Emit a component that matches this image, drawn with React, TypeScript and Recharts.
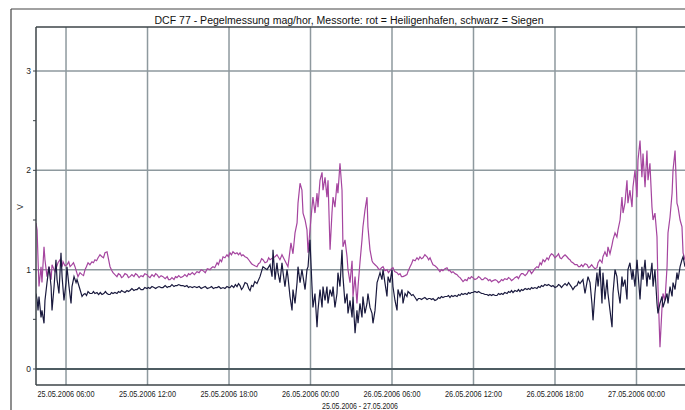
import { LineChart, Line, XAxis, YAxis, CartesianGrid, ReferenceLine } from "recharts";

// hours since 25.05.2006 00:00
const TIME_TICKS = [6, 12, 18, 24, 30, 36, 42, 48];
const TICK_LABELS = [
  "25.05.2006 06:00", "25.05.2006 12:00", "25.05.2006 18:00", "26.05.2006 00:00",
  "26.05.2006 06:00", "26.05.2006 12:00", "26.05.2006 18:00", "27.05.2006 00:00",
];
const Y_TICKS = [0, 0.5, 1, 1.5, 2, 2.5, 3];
const X_MIN = 3.79;
const X_MAX = 51.94;
const Y_MIN = -0.161;
const Y_MAX = 3.443;

// rot = Heiligenhafen, [hour, volt]
const hhMorning: [number, number][] = [
  [3.79, 1.47], [3.87, 1.4], [3.94, 1.1], [4.01, 0.83], [4.16, 1.03], [4.23, 0.87], [4.38, 1.23], [4.45, 1.1],
  [4.6, 0.93], [4.67, 0.98], [4.75, 1.03], [4.9, 0.9], [4.97, 1.05], [5.19, 0.98], [5.41, 1.07], [5.56, 1.1],
  [5.71, 1.03], [5.78, 1.08], [5.92, 1.04], [6.07, 1.05], [6.2, 1.08], [6.3, 1.03], [6.44, 1.05], [6.55, 1.07],
  [6.66, 1.03], [6.77, 0.98], [6.88, 0.93], [7.03, 0.97], [7.18, 0.95], [7.29, 0.94], [7.4, 1.0], [7.5, 1.03],
  [7.62, 1.07], [7.76, 1.05], [7.91, 1.08], [8.02, 1.07], [8.13, 1.1], [8.25, 1.09], [8.36, 1.12], [8.5, 1.15],
  [8.65, 1.13], [8.76, 1.12], [8.87, 1.17], [9.02, 1.18], [9.24, 1.03],
];
const hhDay25: [number, number][] = [
  [9.38, 0.99], [9.46, 0.97], [9.6, 0.95], [9.75, 0.93], [9.86, 0.96], [9.98, 0.95], [10.09, 0.92], [10.2, 0.93],
  [10.34, 0.96], [10.49, 0.95], [10.6, 0.92], [10.71, 0.93], [10.85, 0.95], [11.0, 0.93], [11.12, 0.96], [11.23, 0.95],
  [11.38, 0.92], [11.52, 0.94], [11.67, 0.93], [11.8, 0.96], [11.96, 0.95], [12.07, 0.93], [12.18, 0.92], [12.33, 0.95],
  [12.48, 0.93], [12.6, 0.96], [12.7, 0.95], [12.85, 0.92], [13.0, 0.94], [13.14, 0.93], [13.3, 0.91], [13.45, 0.93],
  [13.55, 0.9], [13.66, 0.9], [13.8, 0.92], [13.95, 0.9], [14.06, 0.93], [14.17, 0.92], [14.3, 0.94], [14.45, 0.92],
  [14.61, 0.93], [14.75, 0.95], [14.9, 0.93], [15.02, 0.96], [15.13, 0.95], [15.3, 0.97], [15.45, 0.95], [15.64, 0.98],
  [15.8, 0.97], [15.95, 1.0], [16.09, 0.99], [16.25, 0.97], [16.4, 1.01], [16.6, 1.0], [16.72, 1.02], [16.82, 1.03],
  [16.95, 1.02], [17.12, 1.07], [17.22, 1.05], [17.34, 1.1], [17.45, 1.08], [17.56, 1.13], [17.7, 1.12], [17.85, 1.15],
  [17.95, 1.13], [18.07, 1.17], [18.18, 1.15], [18.29, 1.18], [18.45, 1.16], [18.59, 1.17], [18.7, 1.15], [18.81, 1.17],
  [18.92, 1.14], [19.03, 1.15], [19.18, 1.13], [19.33, 1.12], [19.45, 1.1], [19.55, 1.08], [19.66, 1.06], [19.77, 1.05],
  [19.9, 1.04], [20.06, 1.03], [20.17, 1.06], [20.28, 1.07], [20.4, 1.11], [20.5, 1.1], [20.65, 1.07], [20.8, 1.08],
  [20.92, 1.12], [21.02, 1.1],
];
const hhNight26: [number, number][] = [
  [21.24, 1.12], [21.39, 1.13], [21.53, 1.15], [21.75, 1.1], [21.9, 1.15], [22.12, 1.09], [22.34, 1.03], [22.56, 1.27],
  [22.71, 1.16], [22.86, 1.37], [23.01, 1.47], [23.08, 1.67], [23.23, 1.87], [23.37, 1.8], [23.45, 1.57], [23.6, 1.5],
  [23.74, 1.4], [23.82, 1.17], [23.96, 1.4], [24.11, 1.63], [24.18, 1.73], [24.33, 1.57], [24.48, 1.77], [24.55, 1.63],
  [24.7, 1.9], [24.85, 1.98], [24.92, 1.8], [25.07, 1.93], [25.21, 1.73], [25.29, 1.9], [25.44, 1.2], [25.58, 1.57],
  [25.66, 1.73], [25.8, 1.63], [25.95, 1.87], [26.02, 1.77], [26.17, 2.07], [26.32, 1.8], [26.39, 1.23], [26.54, 1.3],
  [26.69, 1.13], [26.76, 1.0], [26.91, 0.87], [27.06, 1.09], [27.13, 0.73], [27.28, 0.93], [27.42, 0.66], [27.5, 0.83],
  [27.64, 1.07], [27.79, 1.3], [27.86, 1.43], [28.01, 1.6], [28.16, 1.73], [28.23, 1.43], [28.38, 1.2], [28.53, 1.09],
  [28.6, 1.07], [28.75, 1.05], [28.9, 1.03],
];
const hhDay26: [number, number][] = [
  [29.0, 1.01], [29.12, 1.0], [29.23, 1.02], [29.34, 1.03], [29.48, 0.99], [29.63, 1.0], [29.74, 0.97], [29.85, 0.99],
  [29.96, 1.01], [30.07, 1.02], [30.2, 0.98], [30.37, 0.97], [30.48, 0.95], [30.59, 0.96], [30.7, 0.93], [30.81, 0.93],
  [30.96, 0.94], [31.1, 0.95], [31.2, 0.99], [31.33, 1.03], [31.44, 1.06], [31.55, 1.1], [31.7, 1.09], [31.84, 1.12],
  [31.95, 1.1], [32.06, 1.13], [32.17, 1.11], [32.28, 1.12], [32.42, 1.15], [32.58, 1.13], [32.7, 1.1], [32.8, 1.12],
  [32.92, 1.08], [33.02, 1.05], [33.16, 1.04], [33.31, 1.02], [33.42, 1.0], [33.53, 0.98], [33.64, 1.0], [33.75, 0.99],
  [33.9, 1.01], [34.05, 1.02], [34.16, 0.99], [34.27, 0.99], [34.38, 0.97], [34.49, 0.98], [34.64, 0.96], [34.79, 0.95],
  [34.9, 0.93], [35.01, 0.92], [35.12, 0.9], [35.23, 0.88], [35.38, 0.9], [35.52, 0.89], [35.63, 0.92], [35.74, 0.91],
  [35.85, 0.93], [35.96, 0.92], [36.1, 0.9], [36.26, 0.91], [36.37, 0.93], [36.48, 0.92], [36.6, 0.9], [36.7, 0.9],
  [36.85, 0.92], [36.99, 0.91], [37.1, 0.89], [37.21, 0.9], [37.33, 0.88], [37.44, 0.89], [37.6, 0.9], [37.73, 0.89],
  [37.84, 0.87], [37.95, 0.88], [38.06, 0.9], [38.17, 0.89], [38.3, 0.91], [38.47, 0.9], [38.58, 0.92], [38.69, 0.91],
  [38.8, 0.89], [38.91, 0.9], [39.05, 0.92], [39.2, 0.93], [39.31, 0.91], [39.42, 0.94], [39.53, 0.96], [39.64, 0.96],
  [39.8, 0.94], [39.94, 0.96], [40.05, 0.99], [40.16, 0.99], [40.27, 0.96], [40.38, 0.98], [40.52, 1.01], [40.67, 1.03],
  [40.78, 1.02], [40.9, 1.07], [41.0, 1.05], [41.12, 1.1], [41.25, 1.08], [41.41, 1.12], [41.52, 1.1], [41.63, 1.14],
  [41.74, 1.16], [41.85, 1.15], [42.0, 1.12], [42.15, 1.14], [42.26, 1.16], [42.37, 1.12], [42.48, 1.11], [42.59, 1.13],
  [42.74, 1.15], [42.88, 1.13], [43.0, 1.11], [43.1, 1.1], [43.2, 1.08], [43.32, 1.07], [43.47, 1.05], [43.62, 1.05],
  [43.73, 1.03], [43.84, 1.03], [43.95, 1.05], [44.06, 1.03], [44.21, 1.06], [44.36, 1.05], [44.47, 1.02], [44.58, 1.03],
  [44.7, 1.05], [44.8, 1.03], [44.94, 1.01], [45.09, 1.02],
];
const hhNight27: [number, number][] = [
  [45.17, 1.07], [45.31, 1.1], [45.46, 1.07], [45.53, 1.13], [45.68, 1.18], [45.83, 1.13], [45.9, 1.23], [46.05, 1.16],
  [46.2, 1.25], [46.27, 1.3], [46.42, 1.37], [46.56, 1.33], [46.64, 1.4], [46.79, 1.5], [46.93, 1.73], [47.01, 1.57],
  [47.15, 1.67], [47.3, 1.9], [47.37, 1.67], [47.52, 1.8], [47.67, 1.63], [47.74, 1.83], [47.89, 2.0], [48.04, 1.73],
  [48.11, 2.1], [48.26, 2.3], [48.4, 1.93], [48.48, 2.17], [48.63, 1.83], [48.77, 2.2], [48.85, 1.9], [48.99, 2.07],
  [49.14, 1.63], [49.22, 1.5], [49.36, 1.57], [49.51, 1.33], [49.58, 0.83], [49.73, 0.22], [49.88, 0.62], [49.95, 0.76],
  [50.1, 0.69], [50.25, 1.03], [50.32, 1.37], [50.47, 1.53], [50.62, 1.77], [50.69, 2.0], [50.84, 2.2], [50.98, 1.67],
  [51.06, 1.63], [51.21, 1.5], [51.35, 1.43], [51.43, 1.17], [51.57, 1.1],
];

// schwarz = Siegen, [hour, volt]
const sgMorning: [number, number][] = [
  [3.79, 0.76], [3.87, 0.7], [3.94, 0.59], [4.01, 0.73], [4.16, 0.52], [4.23, 0.59], [4.38, 0.46], [4.45, 0.69],
  [4.6, 0.87], [4.75, 1.03], [4.9, 0.83], [4.97, 0.59], [5.12, 0.83], [5.26, 1.1], [5.34, 0.9], [5.48, 0.76],
  [5.63, 1.17], [5.71, 0.93], [5.85, 0.69], [6.0, 0.87], [6.07, 1.03], [6.22, 0.83], [6.37, 0.66], [6.44, 0.83],
  [6.59, 0.93], [6.74, 0.87], [6.81, 0.9], [7.03, 0.8],
];
const sgDay25: [number, number][] = [
  [7.18, 0.73], [7.29, 0.75], [7.4, 0.76], [7.51, 0.74], [7.62, 0.78], [7.76, 0.76], [7.91, 0.76], [8.02, 0.78],
  [8.13, 0.76], [8.28, 0.77], [8.4, 0.75], [8.52, 0.77], [8.65, 0.75], [8.78, 0.76], [8.9, 0.78], [9.02, 0.76],
  [9.13, 0.75], [9.24, 0.75], [9.35, 0.77], [9.46, 0.76], [9.6, 0.77], [9.75, 0.76], [9.86, 0.78], [9.98, 0.77],
  [10.09, 0.79], [10.2, 0.78], [10.34, 0.77], [10.49, 0.79], [10.6, 0.78], [10.71, 0.79], [10.85, 0.81], [11.0, 0.79],
  [11.12, 0.8], [11.23, 0.8], [11.38, 0.82], [11.52, 0.8], [11.67, 0.8], [11.8, 0.82], [11.96, 0.81], [12.07, 0.82],
  [12.18, 0.81], [12.33, 0.83], [12.48, 0.82], [12.6, 0.81], [12.7, 0.82], [12.85, 0.83], [13.0, 0.82], [13.14, 0.82],
  [13.3, 0.84], [13.45, 0.82], [13.55, 0.83], [13.66, 0.83], [13.8, 0.85], [13.95, 0.83], [14.06, 0.84], [14.17, 0.84],
  [14.3, 0.85], [14.45, 0.84], [14.61, 0.84], [14.75, 0.83], [14.9, 0.84], [15.02, 0.82], [15.13, 0.83], [15.3, 0.82],
  [15.45, 0.83], [15.64, 0.82], [15.8, 0.83], [15.95, 0.81], [16.09, 0.82], [16.25, 0.83], [16.4, 0.81], [16.6, 0.82],
  [16.72, 0.83], [16.85, 0.81], [17.0, 0.82], [17.12, 0.82], [17.25, 0.83], [17.4, 0.81], [17.56, 0.82], [17.7, 0.81],
  [17.85, 0.83], [18.0, 0.82], [18.07, 0.82], [18.2, 0.84], [18.35, 0.82], [18.47, 0.85], [18.59, 0.83], [18.7, 0.86],
  [18.81, 0.84], [18.92, 0.8], [19.03, 0.82], [19.18, 0.87], [19.33, 0.86], [19.45, 0.81], [19.55, 0.79], [19.66, 0.84],
  [19.77, 0.83], [19.9, 0.88], [20.06, 0.86],
];
const sgNight26: [number, number][] = [
  [20.28, 0.93], [20.5, 1.03], [20.8, 1.0], [21.02, 1.05], [21.17, 0.93], [21.24, 1.2], [21.39, 0.9], [21.53, 1.07],
  [21.61, 0.97], [21.75, 0.87], [21.9, 1.07], [21.98, 0.97], [22.12, 0.83], [22.27, 1.0], [22.34, 0.93], [22.49, 0.73],
  [22.64, 0.59], [22.71, 0.8], [22.86, 0.66], [23.01, 0.87], [23.08, 1.03], [23.23, 0.87], [23.37, 1.0], [23.45, 0.93],
  [23.6, 0.8], [23.74, 1.0], [23.82, 1.03], [23.96, 1.3], [24.11, 0.83], [24.18, 0.62], [24.33, 0.76], [24.48, 0.42],
  [24.55, 0.59], [24.7, 0.8], [24.85, 0.62], [24.92, 0.83], [25.07, 0.69], [25.21, 0.83], [25.29, 0.66], [25.44, 0.8],
  [25.58, 0.73], [25.66, 0.83], [25.8, 0.62], [25.95, 0.76], [26.02, 0.97], [26.17, 0.83], [26.32, 1.2], [26.39, 0.93],
  [26.54, 0.66], [26.69, 0.76], [26.76, 0.56], [26.91, 0.69], [27.06, 0.52], [27.13, 0.73], [27.28, 0.36], [27.42, 0.59],
  [27.5, 0.46], [27.64, 0.66], [27.79, 0.52], [27.86, 0.73], [28.01, 0.56], [28.16, 0.66], [28.23, 0.76], [28.38, 0.62],
  [28.53, 0.56], [28.6, 0.46], [28.75, 0.59], [28.9, 0.87], [28.97, 0.9], [29.12, 0.97], [29.26, 0.9], [29.34, 1.0],
  [29.48, 0.87], [29.63, 0.73], [29.71, 0.93], [29.85, 0.87], [30.0, 1.0], [30.07, 0.83], [30.22, 0.69], [30.37, 0.59],
  [30.44, 0.8], [30.59, 0.73], [30.74, 0.8], [30.81, 0.66], [30.96, 0.76], [31.1, 0.73], [31.18, 0.78],
];
const sgDay26: [number, number][] = [
  [31.33, 0.76], [31.44, 0.74], [31.55, 0.75], [31.7, 0.72], [31.84, 0.69], [31.95, 0.71], [32.06, 0.71], [32.17, 0.7],
  [32.28, 0.71], [32.42, 0.72], [32.58, 0.7], [32.7, 0.71], [32.8, 0.71], [32.92, 0.7], [33.02, 0.71], [33.16, 0.69],
  [33.31, 0.7], [33.42, 0.72], [33.53, 0.71], [33.64, 0.73], [33.75, 0.72], [33.9, 0.73], [34.05, 0.73], [34.16, 0.74],
  [34.27, 0.72], [34.38, 0.74], [34.49, 0.73], [34.64, 0.74], [34.79, 0.73], [34.9, 0.75], [35.01, 0.74], [35.12, 0.76],
  [35.23, 0.75], [35.38, 0.76], [35.52, 0.75], [35.63, 0.77], [35.74, 0.76], [35.85, 0.77], [35.96, 0.77], [36.1, 0.78],
  [36.26, 0.77], [36.37, 0.78], [36.48, 0.77], [36.6, 0.76], [36.7, 0.76], [36.85, 0.75], [36.99, 0.75], [37.1, 0.74],
  [37.21, 0.75], [37.33, 0.74], [37.44, 0.75], [37.6, 0.74], [37.73, 0.74], [37.84, 0.76], [37.95, 0.75], [38.06, 0.76],
  [38.17, 0.75], [38.3, 0.77], [38.47, 0.76], [38.58, 0.78], [38.69, 0.77], [38.8, 0.79], [38.91, 0.77], [39.05, 0.79],
  [39.2, 0.78], [39.31, 0.8], [39.42, 0.78], [39.53, 0.8], [39.64, 0.79], [39.8, 0.81], [39.94, 0.8], [40.05, 0.81],
  [40.16, 0.8], [40.27, 0.82], [40.38, 0.81], [40.52, 0.82], [40.67, 0.81], [40.78, 0.83], [40.9, 0.82], [41.0, 0.84],
  [41.12, 0.83], [41.25, 0.85], [41.41, 0.84], [41.52, 0.85], [41.63, 0.84], [41.74, 0.83], [41.85, 0.84], [42.0, 0.82],
  [42.15, 0.83], [42.26, 0.85], [42.37, 0.84], [42.48, 0.82], [42.59, 0.84], [42.74, 0.86], [42.88, 0.84], [43.0, 0.87],
  [43.1, 0.85], [43.2, 0.83], [43.32, 0.8], [43.47, 0.83], [43.62, 0.84], [43.73, 0.88], [43.84, 0.86],
];
const sgNight27: [number, number][] = [
  [44.06, 0.9], [44.21, 0.76], [44.43, 0.93], [44.58, 0.87], [44.72, 0.66], [44.8, 0.49], [44.94, 0.76], [45.09, 0.97],
  [45.17, 0.83], [45.31, 1.03], [45.46, 0.66], [45.53, 0.97], [45.68, 0.7], [45.83, 0.9], [45.9, 0.76], [46.05, 0.59],
  [46.2, 0.42], [46.27, 0.76], [46.42, 1.0], [46.56, 0.93], [46.64, 0.8], [46.79, 0.66], [46.93, 0.93], [47.01, 0.83],
  [47.15, 0.9], [47.3, 0.7], [47.37, 1.0], [47.52, 1.07], [47.67, 0.9], [47.74, 1.0], [47.89, 0.83], [48.04, 1.1],
  [48.11, 0.97], [48.26, 0.7], [48.4, 1.03], [48.48, 0.9], [48.63, 1.1], [48.77, 0.83], [48.85, 0.97], [48.99, 0.9],
  [49.14, 1.07], [49.22, 0.83], [49.36, 1.0], [49.51, 0.66], [49.58, 0.56], [49.73, 0.66], [49.88, 0.73], [49.95, 0.62],
  [50.1, 0.69], [50.25, 0.76], [50.32, 0.66], [50.47, 0.83], [50.62, 0.73], [50.69, 0.87], [50.84, 0.8], [50.98, 0.97],
  [51.06, 0.9], [51.21, 1.03], [51.35, 1.1], [51.43, 1.13], [51.57, 1.03],
];

const heiligenhafen = [...hhMorning, ...hhDay25, ...hhNight26, ...hhDay26, ...hhNight27].map(([t, v]) => ({ t, v }));
const siegen = [...sgMorning, ...sgDay25, ...sgNight26, ...sgDay26, ...sgNight27].map(([t, v]) => ({ t, v }));

const FONT = "'Liberation Sans', Arial, sans-serif";

function XTick({ x, y, payload }: any) {
  const idx = TIME_TICKS.indexOf(payload.value);
  return (
    <text x={x} y={y} dy={12} textAnchor="middle" fontSize={9} fill="#222" fontFamily={FONT}
      textLength={57} lengthAdjust="spacingAndGlyphs">
      {TICK_LABELS[idx]}
    </text>
  );
}

function YTick({ x, y, payload }: any) {
  if (!Number.isInteger(payload.value)) return <g />;
  return (
    <text x={x} y={y} dy={3} textAnchor="end" fontSize={8.5} fill="#222" fontFamily={FONT}>
      {payload.value}
    </text>
  );
}

export default function App() {
  return (
    <div style={{ position: "absolute", left: 0, top: 0, width: 685, height: 410, overflow: "hidden", background: "#fff" }}>
      <LineChart width={695} height={410} margin={{ top: 27, right: 5, left: 0, bottom: 0 }}>
        <CartesianGrid horizontalValues={[1, 2, 3]} verticalValues={TIME_TICKS} stroke="#8e999e" strokeWidth={1.5} />
        <XAxis dataKey="t" type="number" domain={[X_MIN, X_MAX]} ticks={TIME_TICKS} allowDataOverflow
          height={25} tickLine={false} tickSize={0} tickMargin={0} tick={<XTick />}
          axisLine={{ stroke: "#3c4448", strokeWidth: 1.5 }} />
        <YAxis type="number" domain={[Y_MIN, Y_MAX]} ticks={Y_TICKS} allowDataOverflow width={36}
          tickSize={3} tickMargin={2} tickLine={{ stroke: "#3c4448" }} tick={<YTick />}
          axisLine={{ stroke: "#3c4448", strokeWidth: 1.5 }} />
        <ReferenceLine y={0} stroke="#4e5c62" strokeWidth={1.8} />
        <ReferenceLine y={Y_MAX} stroke="#3c4448" strokeWidth={1.5} />
        <Line data={heiligenhafen} dataKey="v" type="linear" stroke="#a5459f" strokeWidth={1.2} dot={false} isAnimationActive={false} />
        <Line data={siegen} dataKey="v" type="linear" stroke="#1a1a3e" strokeWidth={1.2} dot={false} isAnimationActive={false} />
      </LineChart>
      <svg width={685} height={410} style={{ position: "absolute", left: 0, top: 0, pointerEvents: "none" }}>
        <line x1={11} y1={9} x2={685} y2={9} stroke="#444" strokeWidth={1.2} />
        <line x1={11} y1={9} x2={11} y2={410} stroke="#444" strokeWidth={1.2} />
        <text x={349} y={24} textAnchor="middle" fontSize={10} fill="#111" fontFamily={FONT}
          textLength={389} lengthAdjust="spacingAndGlyphs">
          DCF 77 - Pegelmessung mag/hor, Messorte: rot = Heiligenhafen, schwarz = Siegen
        </text>
        <text x={23} y={207} transform="rotate(-90 23 207)" textAnchor="middle" fontSize={8.5} fill="#222" fontFamily={FONT}>
          V
        </text>
        <text x={360} y={409} textAnchor="middle" fontSize={8.5} fill="#222" fontFamily={FONT}
          textLength={76} lengthAdjust="spacingAndGlyphs">
          25.05.2006 - 27.05.2006
        </text>
      </svg>
    </div>
  );
}
